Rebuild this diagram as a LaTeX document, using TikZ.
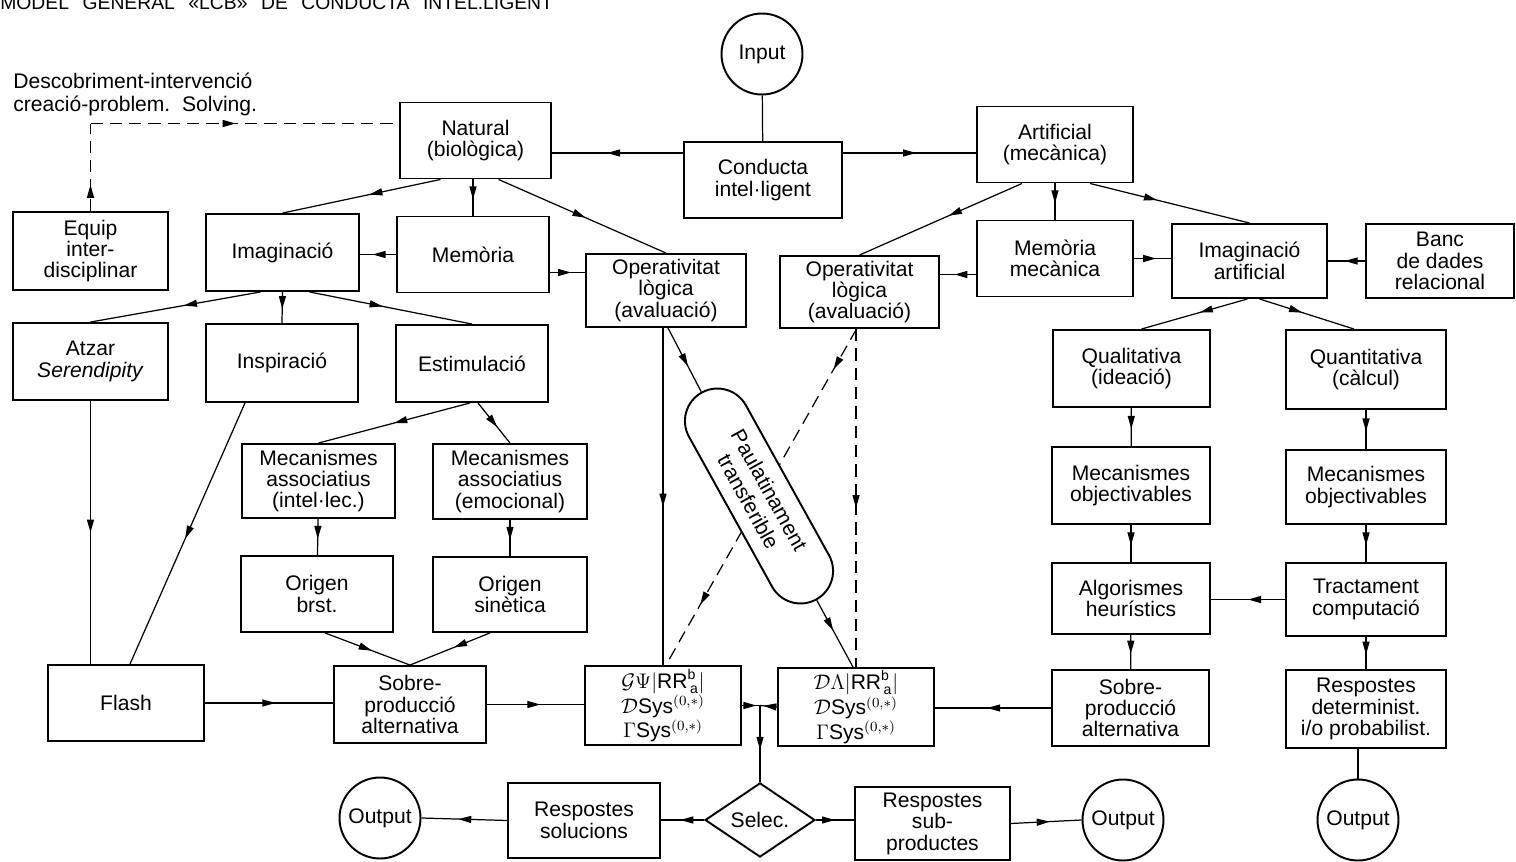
\documentclass[tikz,border=0pt]{standalone}
\usepackage{amsmath}
\usepackage{amssymb}
\usepackage{fontspec}
\setmainfont{Liberation Sans}
\usetikzlibrary{arrows.meta,shapes.geometric,shapes.misc,decorations.markings,calc}
\newcommand{\caixafont}{\fontsize{12}{12.2}\selectfont}
\tikzstyle{caixa} = [draw, line width=1.1pt, rectangle, align=center, inner sep=1pt, minimum width=3.06cm, minimum height=1.52cm, font=\caixafont]
\tikzstyle{cercle} = [draw, line width=1.1pt, circle, minimum size=1.62cm, inner sep=0pt, font=\caixafont]
\tikzstyle{rombe} = [draw, line width=1.1pt, diamond, minimum width=2.2cm, minimum height=1.4cm, inner sep=0pt, font=\caixafont]
\tikzstyle{capsula} = [draw, line width=1.1pt, rounded rectangle, fill=white, align=center, minimum width=4.8cm, minimum height=1.3cm, inner sep=1pt, font=\fontsize{12}{13.5}\selectfont]
\tikzstyle{linia} = [line width=0.7pt]
\tikzstyle{discont} = [line width=0.7pt, dash pattern=on 7pt off 4pt]
\tikzset{fletxa/.style={postaction={decorate}, decoration={markings, mark=at position #1 with {\arrow{Triangle[length=2.6mm,width=1.4mm]}}}}, fletxa/.default=0.55}
\tikzset{fletxes/.style 2 args={postaction={decorate}, decoration={markings, mark=at position #1 with {\arrow{Triangle[length=2.6mm,width=1.4mm]}}, mark=at position #2 with {\arrow{Triangle[length=2.6mm,width=1.4mm]}}}}}

\begin{document}
\begin{tikzpicture}[x=0.02cm, y=-0.02cm]
	\useasboundingbox (0,0) rectangle (1516,862);
	\clip (0,0) rectangle (1516,862);
	% titols
	\node[anchor=base west, inner sep=0pt, font=\fontsize{11}{11}\selectfont] (titol) at (0,10) {MODEL\hspace{0.7em}GENERAL\hspace{0.7em}«LCB»\hspace{0.7em}DE\hspace{0.7em}CONDUCTA\hspace{0.7em}INTEL.LIGENT};
	\node[anchor=north west, inner sep=0pt, align=left, font=\fontsize{12}{13}\selectfont] (subtitol) at (13,73) {Descobriment-intervenció\\creació-problem.\ \ Solving.};
	% nivell superior
	\node[cercle] (input) at (762,54) {Input};
	\node[caixa, minimum width=3.16cm] (conducta) at (763,180) {Conducta\\intel·ligent};
	\node[caixa, minimum width=3.02cm] (natural) at (475.5,140.5) {Natural\\(biològica)};
	\node[caixa, minimum width=3.12cm] (artificial) at (1055,144.5) {Artificial\\(mecànica)};
	\node[caixa, minimum width=3.1cm, minimum height=1.56cm] (equip) at (90.5,251) {Equip\\inter-\\disciplinar};
	\node[caixa, minimum height=1.54cm] (imagL) at (282.5,252.5) {Imaginació};
	\node[caixa, minimum width=3.04cm] (memL) at (473,254.5) {Memòria};
	\node[caixa, minimum width=3.2cm, minimum height=1.46cm] (opL) at (666,290.5) {Operativitat\\lògica\\(avaluació)};
	\node[caixa, minimum width=3.18cm, minimum height=1.44cm] (opR) at (859.5,292) {Operativitat\\lògica\\(avaluació)};
	\node[caixa, minimum width=3.12cm] (memR) at (1055,258.5) {Memòria\\mecànica};
	\node[caixa, minimum width=3.1cm, minimum height=1.48cm] (imagR) at (1249.5,261) {Imaginació\\artificial};
	\node[caixa, minimum width=2.96cm, minimum height=1.48cm] (banc) at (1440,261) {Banc\\de dades\\relacional};
	% branca natural
	\node[caixa, minimum width=3.1cm, minimum height=1.54cm] (atzar) at (90.5,361.5) {Atzar\\\textit{Serendipity}};
	\node[caixa, minimum width=3.04cm, minimum height=1.56cm] (inspi) at (282,363) {Inspiració};
	\node[caixa, minimum width=3.04cm, minimum height=1.54cm] (estim) at (472,363.5) {Estimulació};
	\node[caixa, minimum height=1.48cm] (mecI) at (318.5,481) {Mecanismes\\associatius\\(intel·lec.)};
	\node[caixa, minimum width=3.08cm, minimum height=1.5cm] (mecE) at (510,481.5) {Mecanismes\\associatius\\(emocional)};
	\node[caixa, minimum width=3.04cm] (origB) at (317,594) {Origen\\brst.};
	\node[caixa, minimum width=3.08cm, minimum height=1.5cm] (origS) at (510,594.5) {Origen\\sinètica};
	\node[caixa, minimum width=3.12cm] (flash) at (126,703) {Flash};
	\node[caixa, minimum width=3.04cm, minimum height=1.54cm] (sobreL) at (410,704.5) {Sobre-\\producció\\alternativa};
	% branca artificial
	\node[caixa, minimum width=3.14cm, minimum height=1.54cm] (quali) at (1131.5,368.5) {Qualitativa\\(ideació)};
	\node[caixa, minimum width=3.2cm, minimum height=1.58cm] (quanti) at (1366,369.5) {Quantitativa\\(càlcul)};
	\node[caixa, minimum width=3.16cm, minimum height=1.54cm] (mecO1) at (1131,485.5) {Mecanismes\\objectivables};
	\node[caixa, minimum width=3.2cm, minimum height=1.48cm] (mecO2) at (1366,487) {Mecanismes\\objectivables};
	\node[caixa, minimum width=3.16cm, minimum height=1.42cm] (algor) at (1131,598.5) {Algorismes\\heurístics};
	\node[caixa, minimum width=3.2cm, minimum height=1.46cm] (tract) at (1366,599.5) {Tractament\\computació};
	\node[caixa, minimum width=3.14cm] (sobreR) at (1130.5,708) {Sobre-\\producció\\alternativa};
	\node[caixa, minimum width=3.2cm, minimum height=1.56cm] (respD) at (1366,709) {Respostes\\determinist.\\i/o probabilist.};
	% sistemes i sortides
	\node[caixa, minimum width=3.12cm, minimum height=1.58cm] (formL) at (663,705.5) {$\mathcal{G}\Psi|\mathrm{RR}^{\mathrm{b}}_{\,\mathrm{a}}|$\\$\mathcal{D}$Sys$^{(0,*)}$\\$\Gamma$Sys$^{(0,*)}$};
	\node[caixa, minimum width=3.12cm, minimum height=1.56cm] (formR) at (856,707) {$\mathcal{D}\Lambda|\mathrm{RR}^{\mathrm{b}}_{\,\mathrm{a}}|$\\$\mathcal{D}$Sys$^{(0,*)}$\\$\Gamma$Sys$^{(0,*)}$};
	\node[rombe] (selec) at (760,820) {Selec.};
	\node[caixa, minimum width=3.04cm, minimum height=1.5cm] (respS) at (584,820.5) {Respostes\\solucions};
	\node[caixa, minimum width=3.1cm, minimum height=1.46cm] (respP) at (932.5,823.5) {Respostes\\sub-\\productes};
	\node[cercle] (outL) at (380,818) {Output};
	\node[cercle] (outM) at (1123,820) {Output};
	\node[cercle] (outR) at (1358,820) {Output};
	% connexions superiors
	\draw[linia] (input) -- (conducta);
	\coordinate (c1) at ($(conducta.west)+(0,-27)$);
	\coordinate (c2) at ($(conducta.east)+(0,-27)$);
	\draw[linia, fletxa=0.58] (c1) -- (c1 -| natural.east);
	\draw[linia, fletxa=0.55] (c2) -- (c2 -| artificial.west);
	\coordinate (d1) at ($(natural.west)+(0,-17)$);
	\coordinate (d0) at (equip.north |- d1);
	\draw[discont, fletxa=0.3] (equip.north) -- (d0);
	\draw[discont, fletxa=0.47] (d0) -- (d1);
	\draw[linia, fletxa=0.45] ($(natural.south)+(-35,0)$) -- (imagL.north);
	\draw[linia, fletxa] (memL.north |- natural.south) -- (memL.north);
	\draw[linia, fletxa=0.52] ($(natural.south)+(23,0)$) -- (opL.north);
	\draw[linia, fletxa=0.65] (memL.west) -- (memL.west -| imagL.east);
	\coordinate (m1) at ($(memL.east)+(0,18)$);
	\draw[linia, fletxa=0.6] (m1) -- (m1 -| opL.west);
	\draw[linia, fletxa=0.45] ($(artificial.south)+(-33,0)$) -- (opR.north);
	\draw[linia, fletxa] (artificial.south) -- (memR.north);
	\draw[linia, fletxa=0.42] ($(artificial.south)+(35,0)$) -- (imagR.north);
	\coordinate (m2) at ($(memR.west)+(0,16)$);
	\draw[linia, fletxa=0.6] (m2) -- (m2 -| opR.east);
	\draw[linia, fletxa=0.6] (memR.east) -- (memR.east -| imagR.west);
	\draw[linia, fletxa=0.55] (banc.west) -- (banc.west -| imagR.east);
	% connexions branca natural
	\draw[linia, fletxa=0.45] ($(imagL.south)+(-22,0)$) -- (atzar.north);
	\draw[linia, fletxa] (imagL.south) -- (inspi.north);
	\draw[linia, fletxa=0.45] ($(imagL.south)+(27,0)$) -- (estim.north);
	\draw[linia, fletxa=0.5] ($(estim.south)+(-2,0)$) -- (mecI.north);
	\draw[linia, fletxa=0.6] ($(estim.south)+(6,0)$) -- (mecE.north);
	\draw[linia, fletxa] (mecI) -- (origB);
	\draw[linia, fletxa] (mecE) -- (origS);
	\draw[linia, fletxa=0.55] ($(origB.south)+(8,0)$) -- (sobreL.north);
	\draw[linia, fletxa=0.45] ($(origS.south)+(-20,0)$) -- (sobreL.north);
	\draw[linia, fletxa=0.5] (atzar.south) -- (atzar.south |- flash.north);
	\draw[linia, fletxa=0.52] ($(inspi.south)+(-37,0)$) -- ($(flash.north)+(4,0)$);
	\draw[linia, fletxa=0.55] (flash.east) -- (flash.east -| sobreL.west);
	\draw[linia, fletxa=0.55] (sobreL.east) -- (sobreL.east -| formL.west);
	% connexions branca artificial
	\draw[linia, fletxa=0.45] ($(imagR.south)+(-2,0)$) -- ($(quali.north)+(10,0)$);
	\draw[linia, fletxa=0.45] ($(imagR.south)+(10,0)$) -- ($(quanti.north)+(-12,0)$);
	\draw[linia, fletxa] (quali) -- (mecO1);
	\draw[linia, fletxa] (mecO1) -- (algor);
	\draw[linia, fletxa] (algor) -- (sobreR);
	\draw[linia, fletxa] (quanti) -- (mecO2);
	\draw[linia, fletxa] (mecO2) -- (tract);
	\draw[linia, fletxa] (tract) -- (respD);
	\draw[linia, fletxa=0.5] (tract.west) -- (tract.west -| algor.east);
	\draw[linia] (outR.north |- respD.south) -- (outR.north);
	\draw[linia, fletxa=0.55] (sobreR.west) -- (sobreR.west -| formR.east);
	% operativitat cap als sistemes
	\draw[linia, fletxa=0.53] (formL.north |- opL.south) -- (formL.north);
	\draw[discont, fletxa=0.53] (formR.north |- opR.south) -- (formR.north);
	\draw[discont, fletxes={0.12}{0.82}] ($(opR.south)+(-3,0)$) -- ($(formL.north)+(3,0)$);
	\node[capsula, rotate=-61] (caps) at (759,496) {Paulatinament\\transferible};
	\draw[linia, fletxa=0.6] ($(opL.south)+(2,0)$) -- (caps.west);
	\draw[linia, fletxa=0.45] (caps.east) -- ($(formR.north)+(-3,0)$);
	% seleccio i sortides
	\coordinate (nus) at (selec.north |- formL.east);
	\draw[linia, fletxa=0.8] (formL.east) -- (nus);
	\draw[linia, fletxa=0.8] (formR.west) -- (nus);
	\draw[linia, fletxa=0.58] (nus) -- (selec.north);
	\draw[linia, fletxa=0.55] (selec.west) -- (selec.west -| respS.east);
	\draw[linia, fletxa=0.57] (respS.west) -- (outL.east);
	\draw[linia, fletxa=0.5] (selec.east) -- (selec.east -| respP.west);
	\draw[linia, fletxa=0.55] (respP.east) -- (outM.west);
\end{tikzpicture}
\end{document}
